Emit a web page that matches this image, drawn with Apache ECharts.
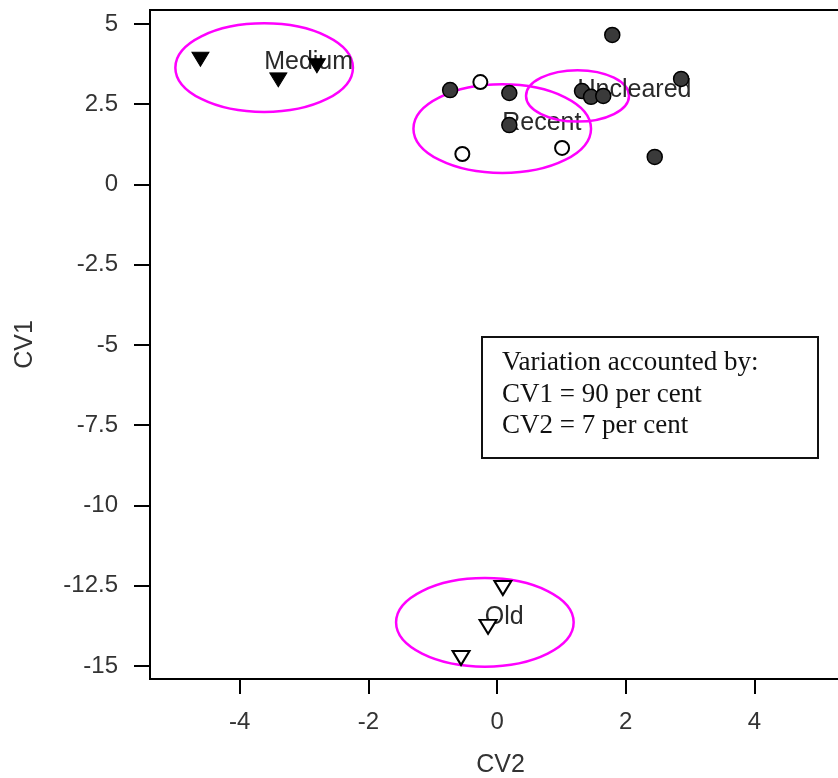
<!DOCTYPE html>
<html>
<head>
<meta charset="utf-8">
<title>Canonical variates plot</title>
<script src="https://cdn.jsdelivr.net/npm/echarts@6/dist/echarts.min.js"></script>
<style>
  html, body { margin: 0; padding: 0; background: #ffffff; }
  #chart { width: 838px; height: 778px; }
</style>
</head>
<body>
<div id="chart"></div>
<script>
// Canonical variate scores per site group (x = CV2, y = CV1)
const unclearedCV2 = [-0.73, 0.19, 0.19, 1.79, 1.32, 1.46, 1.65, 2.86, 2.45];
const unclearedCV1 = [2.94, 2.85, 1.85, 4.66, 2.91, 2.73, 2.76, 3.29, 0.86];
const recentCV2 = [-0.26, -0.54, 1.01];
const recentCV1 = [3.19, 0.95, 1.14];
const mediumCV2 = [-4.61, -3.40, -2.80];
const mediumCV1 = [3.90, 3.26, 3.70];
const oldCV2 = [0.09, -0.14, -0.56];
const oldCV1 = [-12.57, -13.78, -14.75];

// Group confidence circles: centre (CV2, CV1) and radius in axis units
const groupNames = ['Medium', 'Recent', 'Uncleared', 'Old'];
const groupCentreCV2 = [-3.62, 0.08, 1.25, -0.19];
const groupCentreCV1 = [3.64, 1.74, 2.76, -13.64];
const groupRadius = [1.38, 1.38, 0.80, 1.38];

// Axis ticks
const xTicks = [-4, -2, 0, 2, 4];
const yTicks = [5, 2.5, 0, -2.5, -5, -7.5, -10, -12.5, -15];

// Explained variation note
const noteLines = ['Variation accounted by:', 'CV1 = 90 per cent', 'CV2 = 7 per cent'];

const pairs = (xs, ys) => xs.map((x, i) => [x, ys[i]]);

const sans = 'Liberation Sans, Arial, sans-serif';
const serif = 'Liberation Serif, Times New Roman, serif';

const circleData = groupNames.map((n, i) => [groupCentreCV2[i], groupCentreCV1[i], groupRadius[i], n]);

const chart = echarts.init(document.getElementById('chart'), null, { renderer: 'canvas' });

chart.setOption({
  animation: false,
  backgroundColor: '#ffffff',
  grid: {
    left: 150, top: 10, width: 701, bottom: 99,
    outerBoundsMode: 'none', containLabel: false,
    show: true, borderColor: '#000', borderWidth: 2, backgroundColor: 'transparent'
  },
  xAxis: {
    type: 'value', min: -5.394, max: 5.5,
    name: 'CV2', nameLocation: 'middle', nameGap: 74,
    nameTextStyle: { fontFamily: sans, fontSize: 25, color: '#333' },
    axisLine: { show: true, onZero: false, lineStyle: { color: '#000', width: 2 } },
    axisTick: { show: true, customValues: xTicks, length: 15, lineStyle: { color: '#000', width: 2 } },
    axisLabel: { customValues: xTicks, fontFamily: sans, fontSize: 24, color: '#333', margin: 31 },
    splitLine: { show: false }
  },
  yAxis: {
    type: 'value', min: -15.405, max: 5.436,
    name: 'CV1', nameLocation: 'middle', nameGap: 112, nameRotate: 90,
    nameTextStyle: { fontFamily: sans, fontSize: 25, color: '#333' },
    axisLine: { show: true, onZero: false, lineStyle: { color: '#000', width: 2 } },
    axisTick: { show: true, customValues: yTicks, length: 16, lineStyle: { color: '#000', width: 2 } },
    axisLabel: { customValues: yTicks, fontFamily: sans, fontSize: 24, color: '#333', margin: 32 },
    splitLine: { show: false }
  },
  series: [
    {
      type: 'custom',
      name: 'circles',
      z: 2,
      silent: true,
      clip: false,
      data: circleData,
      renderItem: function (params, api) {
        const c = api.coord([api.value(0), api.value(1)]);
        const s = api.size([api.value(2), api.value(2)]);
        return {
          type: 'group',
          children: [
            {
              type: 'ellipse',
              shape: { cx: c[0], cy: c[1], rx: s[0], ry: s[1] },
              style: { fill: null, stroke: '#ff00ff', lineWidth: 2.5 }
            },
            {
              type: 'text',
              x: c[0], y: c[1] + 7,
              style: {
                text: groupNames[params.dataIndex],
                fontFamily: sans, fontSize: 25, fill: '#2a2a2a',
                align: 'left', verticalAlign: 'bottom'
              }
            }
          ]
        };
      }
    },
    {
      type: 'scatter', name: 'Uncleared', z: 3,
      data: pairs(unclearedCV2, unclearedCV1),
      symbol: 'circle', symbolSize: 15,
      itemStyle: { color: '#3a3a3a', borderColor: '#000', borderWidth: 1.5, opacity: 1 }
    },
    {
      type: 'scatter', name: 'Recent', z: 3,
      data: pairs(recentCV2, recentCV1),
      symbol: 'circle', symbolSize: 14,
      itemStyle: { color: '#ffffff', borderColor: '#000', borderWidth: 2, opacity: 1 }
    },
    {
      type: 'scatter', name: 'Medium', z: 3,
      data: pairs(mediumCV2, mediumCV1),
      symbol: 'triangle', symbolSize: [17, 14], symbolRotate: 180,
      itemStyle: { color: '#000', borderColor: '#000', borderWidth: 1, opacity: 1 }
    },
    {
      type: 'scatter', name: 'Old', z: 3,
      data: pairs(oldCV2, oldCV1),
      symbol: 'triangle', symbolSize: [17, 14], symbolRotate: 180,
      itemStyle: { color: '#ffffff', borderColor: '#000', borderWidth: 2, opacity: 1 }
    }
  ],
  graphic: [
    {
      type: 'group',
      left: 481, top: 336,
      children: [
        {
          type: 'rect',
          shape: { x: 0, y: 0, width: 336, height: 121 },
          style: { fill: '#ffffff', stroke: '#111', lineWidth: 2 }
        }
      ].concat(noteLines.map((t, i) => ({
        type: 'text',
        x: 20, y: 26 + i * 31.5,
        style: { text: t, fontFamily: serif, fontSize: 27, fill: '#111', align: 'left', verticalAlign: 'middle' }
      })))
    }
  ]
});
</script>
</body>
</html>
